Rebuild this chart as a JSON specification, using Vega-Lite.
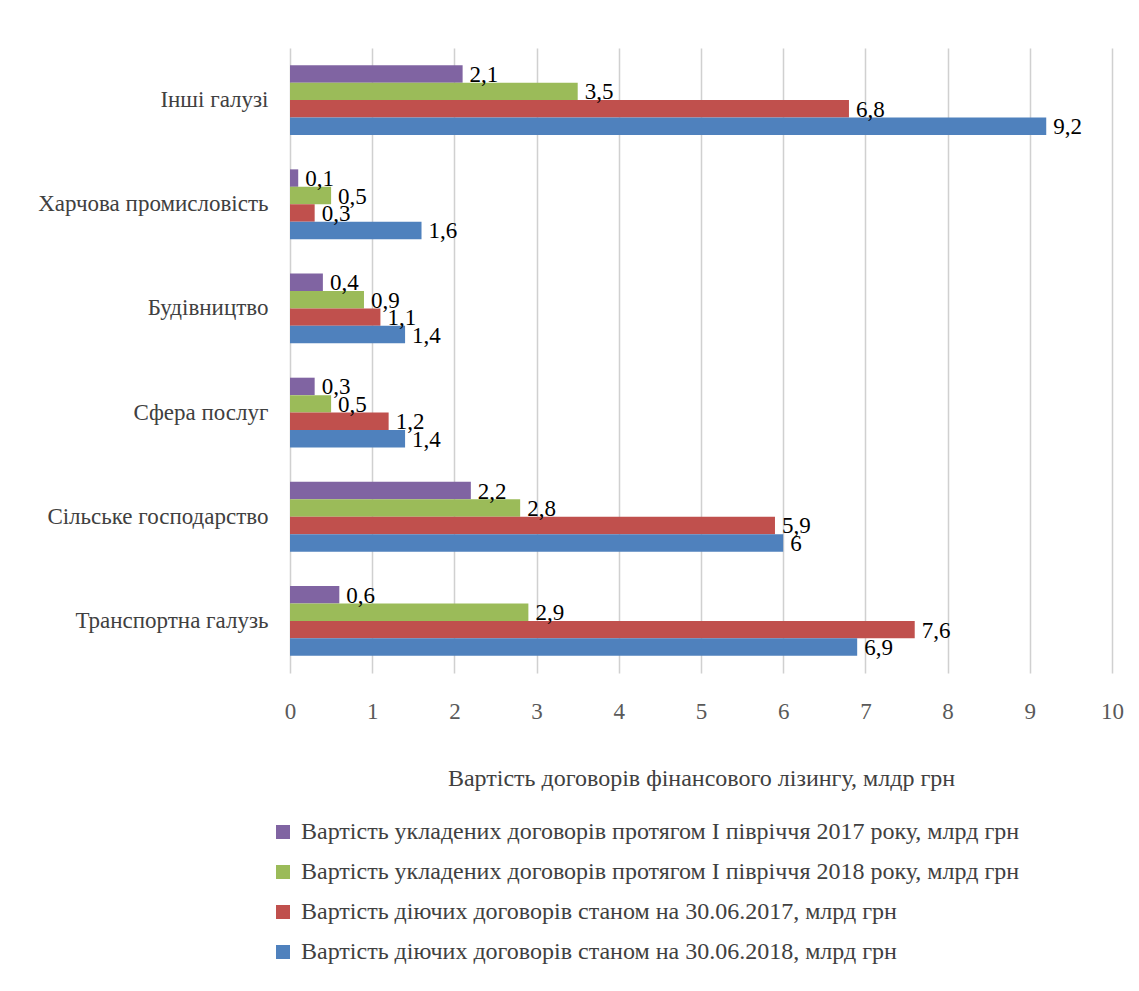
{
  "$schema": "https://vega.github.io/schema/vega-lite/v6.json",
  "autosize": {"type": "none"},
  "padding": {"left": 290, "top": 48, "right": 27, "bottom": 318},
  "width": 822,
  "height": 625,
  "background": "white",
  "config": {
    "locale": {"number": {"decimal": ",", "thousands": " ", "grouping": [3], "currency": ["", ""]}},
    "font": "Liberation Serif",
    "view": {"stroke": null}
  },
  "data": {
    "values": [
      {"galuz": "Інші галузі", "series": "Вартість укладених договорів протягом І півріччя 2017 року, млрд грн", "value": 2.1},
      {"galuz": "Інші галузі", "series": "Вартість укладених договорів протягом І півріччя 2018 року, млрд грн", "value": 3.5},
      {"galuz": "Інші галузі", "series": "Вартість діючих договорів станом на 30.06.2017, млрд грн", "value": 6.8},
      {"galuz": "Інші галузі", "series": "Вартість діючих договорів станом на 30.06.2018, млрд грн", "value": 9.2},
      {"galuz": "Харчова промисловість", "series": "Вартість укладених договорів протягом І півріччя 2017 року, млрд грн", "value": 0.1},
      {"galuz": "Харчова промисловість", "series": "Вартість укладених договорів протягом І півріччя 2018 року, млрд грн", "value": 0.5},
      {"galuz": "Харчова промисловість", "series": "Вартість діючих договорів станом на 30.06.2017, млрд грн", "value": 0.3},
      {"galuz": "Харчова промисловість", "series": "Вартість діючих договорів станом на 30.06.2018, млрд грн", "value": 1.6},
      {"galuz": "Будівництво", "series": "Вартість укладених договорів протягом І півріччя 2017 року, млрд грн", "value": 0.4},
      {"galuz": "Будівництво", "series": "Вартість укладених договорів протягом І півріччя 2018 року, млрд грн", "value": 0.9},
      {"galuz": "Будівництво", "series": "Вартість діючих договорів станом на 30.06.2017, млрд грн", "value": 1.1},
      {"galuz": "Будівництво", "series": "Вартість діючих договорів станом на 30.06.2018, млрд грн", "value": 1.4},
      {"galuz": "Сфера послуг", "series": "Вартість укладених договорів протягом І півріччя 2017 року, млрд грн", "value": 0.3},
      {"galuz": "Сфера послуг", "series": "Вартість укладених договорів протягом І півріччя 2018 року, млрд грн", "value": 0.5},
      {"galuz": "Сфера послуг", "series": "Вартість діючих договорів станом на 30.06.2017, млрд грн", "value": 1.2},
      {"galuz": "Сфера послуг", "series": "Вартість діючих договорів станом на 30.06.2018, млрд грн", "value": 1.4},
      {"galuz": "Сільське господарство", "series": "Вартість укладених договорів протягом І півріччя 2017 року, млрд грн", "value": 2.2},
      {"galuz": "Сільське господарство", "series": "Вартість укладених договорів протягом І півріччя 2018 року, млрд грн", "value": 2.8},
      {"galuz": "Сільське господарство", "series": "Вартість діючих договорів станом на 30.06.2017, млрд грн", "value": 5.9},
      {"galuz": "Сільське господарство", "series": "Вартість діючих договорів станом на 30.06.2018, млрд грн", "value": 6},
      {"galuz": "Транспортна галузь", "series": "Вартість укладених договорів протягом І півріччя 2017 року, млрд грн", "value": 0.6},
      {"galuz": "Транспортна галузь", "series": "Вартість укладених договорів протягом І півріччя 2018 року, млрд грн", "value": 2.9},
      {"galuz": "Транспортна галузь", "series": "Вартість діючих договорів станом на 30.06.2017, млрд грн", "value": 7.6},
      {"galuz": "Транспортна галузь", "series": "Вартість діючих договорів станом на 30.06.2018, млрд грн", "value": 6.9}
    ]
  },
  "encoding": {
    "y": {
      "field": "galuz",
      "type": "nominal",
      "sort": null,
      "scale": {"paddingInner": 0.33, "paddingOuter": 0.165},
      "axis": {
        "title": null,
        "domain": false,
        "ticks": false,
        "labelPadding": 22,
        "labelFontSize": 23,
        "labelColor": "#404040",
        "labelFont": "Liberation Serif",
        "labelLimit": 400
      }
    },
    "yOffset": {
      "field": "series",
      "type": "nominal",
      "scale": {
        "domain": [
          "Вартість укладених договорів протягом І півріччя 2017 року, млрд грн",
          "Вартість укладених договорів протягом І півріччя 2018 року, млрд грн",
          "Вартість діючих договорів станом на 30.06.2017, млрд грн",
          "Вартість діючих договорів станом на 30.06.2018, млрд грн"
        ],
        "paddingInner": 0,
        "paddingOuter": 0
      }
    },
    "x": {
      "field": "value",
      "type": "quantitative",
      "scale": {"domain": [0, 10], "nice": false},
      "axis": {
        "title": "Вартість договорів фінансового лізингу, млдр грн",
        "titleFont": "Liberation Serif",
        "titleFontSize": 24,
        "titleFontWeight": "normal",
        "titleColor": "#404040",
        "titlePadding": 43,
        "values": [0, 1, 2, 3, 4, 5, 6, 7, 8, 9, 10],
        "format": "d",
        "domain": false,
        "ticks": false,
        "labelFlush": false,
        "labelPadding": 27,
        "labelFontSize": 23,
        "labelColor": "#595959",
        "labelFont": "Liberation Serif",
        "grid": true,
        "gridColor": "#d0d0d0",
        "gridWidth": 1.5
      }
    }
  },
  "layer": [
    {
      "mark": {"type": "bar"},
      "encoding": {
        "color": {
          "field": "series",
          "type": "nominal",
          "scale": {
            "domain": [
              "Вартість укладених договорів протягом І півріччя 2017 року, млрд грн",
              "Вартість укладених договорів протягом І півріччя 2018 року, млрд грн",
              "Вартість діючих договорів станом на 30.06.2017, млрд грн",
              "Вартість діючих договорів станом на 30.06.2018, млрд грн"
            ],
            "range": ["#8064A2", "#9BBB59", "#C0504D", "#4F81BD"]
          },
          "legend": {
            "title": null,
            "orient": "none",
            "direction": "vertical",
            "legendX": -19,
            "legendY": 772,
            "symbolType": "square",
            "symbolSize": 196,
            "symbolStrokeWidth": 0,
            "labelFont": "Liberation Serif",
            "labelFontSize": 24,
            "labelColor": "#404040",
            "labelLimit": 900,
            "labelOffset": 6,
            "rowPadding": 16
          }
        }
      }
    },
    {
      "mark": {
        "type": "text",
        "align": "left",
        "baseline": "middle",
        "dx": 7,
        "dy": 1,
        "font": "Liberation Serif",
        "fontSize": 23,
        "color": "black"
      },
      "encoding": {
        "text": {"field": "value", "type": "quantitative", "format": ".1~f"}
      }
    }
  ]
}
